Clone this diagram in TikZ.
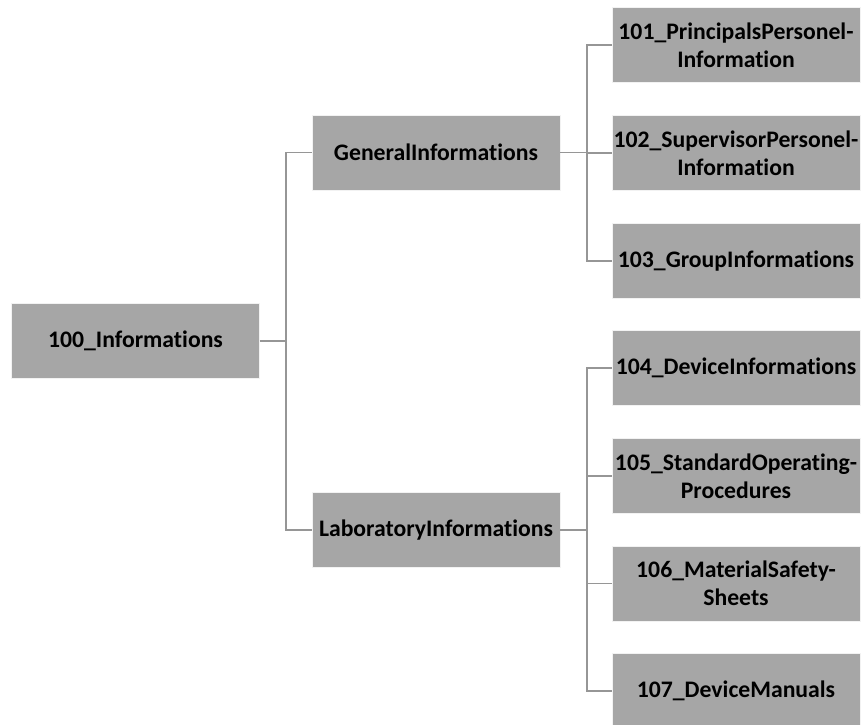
\documentclass[tikz,border=0pt]{standalone}
\usepackage{fontspec}
\setmainfont{Carlito}[Ligatures={NoCommon}]
\begin{document}
\begin{tikzpicture}[x=1pt,y=-1pt,
  box/.style={rectangle, fill=boxgray, draw=white!85!boxgray, line width=0.8pt,
    minimum width=248pt, minimum height=75pt, inner sep=0pt, align=center,
    font=\fontsize{23.7}{28}\selectfont\bfseries, text=black},
  conn/.style={draw=linegray, line width=1.7pt}]
\definecolor{boxgray}{HTML}{A6A6A6}
\definecolor{linegray}{HTML}{969696}
\useasboundingbox (0,0) rectangle (861,724);
\node[box] (root) at (135.5,340.8) {100\_Informations};
\node[box] (gen) at (436,152.5) {GeneralInformations};
\node[box] (lab) at (436,530) {LaboratoryInformations};
\node[box] (n101) at (736,45) {101\_PrincipalsPersonel-\\Information};
\node[box] (n102) at (736,153) {102\_SupervisorPersonel-\\Information};
\node[box] (n103) at (736,260.8) {103\_GroupInformations};
\node[box] (n104) at (736,368) {104\_DeviceInformations};
\node[box] (n105) at (736,476) {105\_StandardOperating-\\Procedures};
\node[box] (n106) at (736,583.5) {106\_MaterialSafety-\\Sheets};
\node[box] (n107) at (736,691) {107\_DeviceManuals};
\draw[conn] (root.east) -- ++(26,0) |- (gen.west);
\draw[conn] (root.east) -- ++(26,0) |- (lab.west);
\foreach \t in {n101,n102,n103}{
  \draw[conn] (gen.east) -- ++(26.5,0) |- (\t.west);
}
\foreach \t in {n104,n105,n106,n107}{
  \draw[conn] (lab.east) -- ++(26.5,0) |- (\t.west);
}
\end{tikzpicture}
\end{document}
